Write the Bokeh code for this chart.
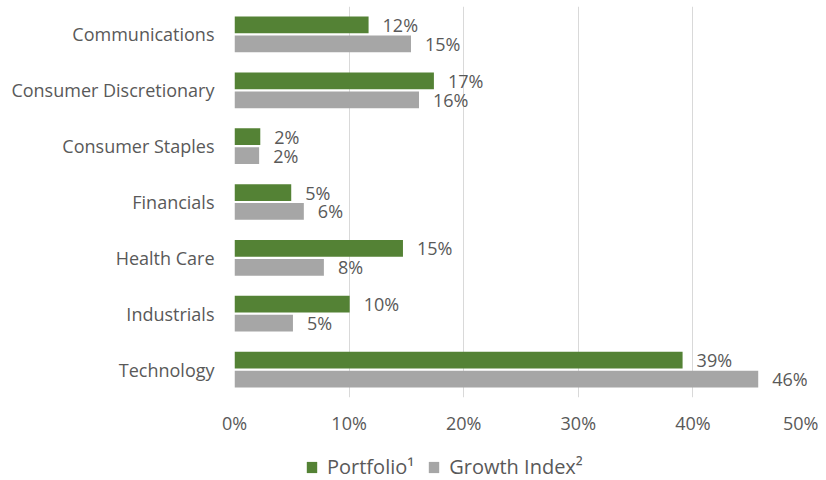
from bokeh.plotting import figure
from bokeh.layouts import column
from bokeh.models import ColumnDataSource, FactorRange, Range1d, FixedTicker, Legend, LegendItem
from bokeh.transform import dodge
from bokeh.core.properties import value
from bokeh.embed import file_html
from bokeh.resources import INLINE

categories = ["Communications", "Consumer Discretionary", "Consumer Staples",
              "Financials", "Health Care", "Industrials", "Technology"]
portfolio = [11.7, 17.4, 2.25, 4.95, 14.7, 10.05, 39.1]
growth_index = [15.4, 16.1, 2.15, 6.05, 7.8, 5.1, 45.7]
x_ticks = [0, 10, 20, 30, 40, 50]
x_tick_labels = ["0%", "10%", "20%", "30%", "40%", "50%"]
series_names = ["Portfolio\u00b9", "Growth Index\u00b2"]

FONT = "Open Sans"
TXT = "#595959"
GREEN = "#548235"
GRAY = "#A6A6A6"

src = ColumnDataSource(dict(
    cat=categories,
    p=portfolio,
    g=growth_index,
    pl=[f"{round(v)}%" for v in portfolio],
    gl=[f"{round(v)}%" for v in growth_index],
))

p = figure(y_range=FactorRange(*reversed(categories)), x_range=Range1d(0, 50),
           frame_width=573, frame_height=391, output_backend="svg",
           toolbar_location=None, min_border_left=234, min_border_right=11,
           min_border_top=6, min_border_bottom=55)
p.outline_line_color = None
p.background_fill_color = "white"
p.border_fill_color = "white"

p.hbar(y=dodge("cat", 0.17, range=p.y_range), right="p", left=0, height=0.3,
       source=src, fill_color=GREEN, line_color=None)
p.hbar(y=dodge("cat", -0.17, range=p.y_range), right="g", left=0, height=0.3,
       source=src, fill_color=GRAY, line_color=None)

p.text(x="p", y=dodge("cat", 0.17, range=p.y_range), text="pl", source=src,
       x_offset=14, text_align="left", text_baseline="middle",
       text_font=value(FONT), text_font_size="18px", text_color=TXT)
p.text(x="g", y=dodge("cat", -0.17, range=p.y_range), text="gl", source=src,
       x_offset=14, text_align="left", text_baseline="middle",
       text_font=value(FONT), text_font_size="18px", text_color=TXT)

p.xaxis.ticker = FixedTicker(ticks=x_ticks)
p.xaxis.major_label_overrides = {t: l for t, l in zip(x_ticks, x_tick_labels)}
for ax in (p.xaxis[0], p.yaxis[0]):
    ax.axis_line_color = None
    ax.major_tick_line_color = None
    ax.minor_tick_line_color = None
    ax.major_tick_out = 0
    ax.major_tick_in = 0
    ax.major_label_text_font = FONT
    ax.major_label_text_font_size = "18px"
    ax.major_label_text_color = TXT
p.xaxis.major_label_standoff = 13
p.yaxis.major_label_standoff = 20

p.xgrid.grid_line_color = "#D9D9D9"
p.xgrid.grid_line_width = 1
p.ygrid.grid_line_color = None

# legend strip below the chart (its frame is aligned with the chart's frame)
lg = figure(width=818, height=28, x_range=Range1d(0, 1), y_range=Range1d(0, 1),
            output_backend="svg", toolbar_location=None,
            min_border_left=0, min_border_right=0, min_border_top=0, min_border_bottom=0)
lg.axis.visible = False
lg.grid.visible = False
lg.outline_line_color = None
# zero-width bars: only used to give the legend its swatches
lg1 = lg.hbar(y=[0.5], right=[0], left=0, height=0.3, fill_color=GREEN, line_color=None)
lg2 = lg.hbar(y=[0.5], right=[0], left=0, height=0.3, fill_color=GRAY, line_color=None)
legend = Legend(items=[LegendItem(label=series_names[0], renderers=[lg1]),
                       LegendItem(label=series_names[1], renderers=[lg2])],
                location=(71, 0), orientation="horizontal",
                glyph_width=13, glyph_height=14, label_standoff=9, spacing=13,
                padding=0, margin=0, border_line_color=None,
                background_fill_alpha=0, label_text_font=FONT,
                label_text_font_size="20px", label_text_color=TXT)
lg.add_layout(legend, "center")

layout = column(p, lg, spacing=0)
open("out.html", "w").write(file_html(layout, INLINE))
